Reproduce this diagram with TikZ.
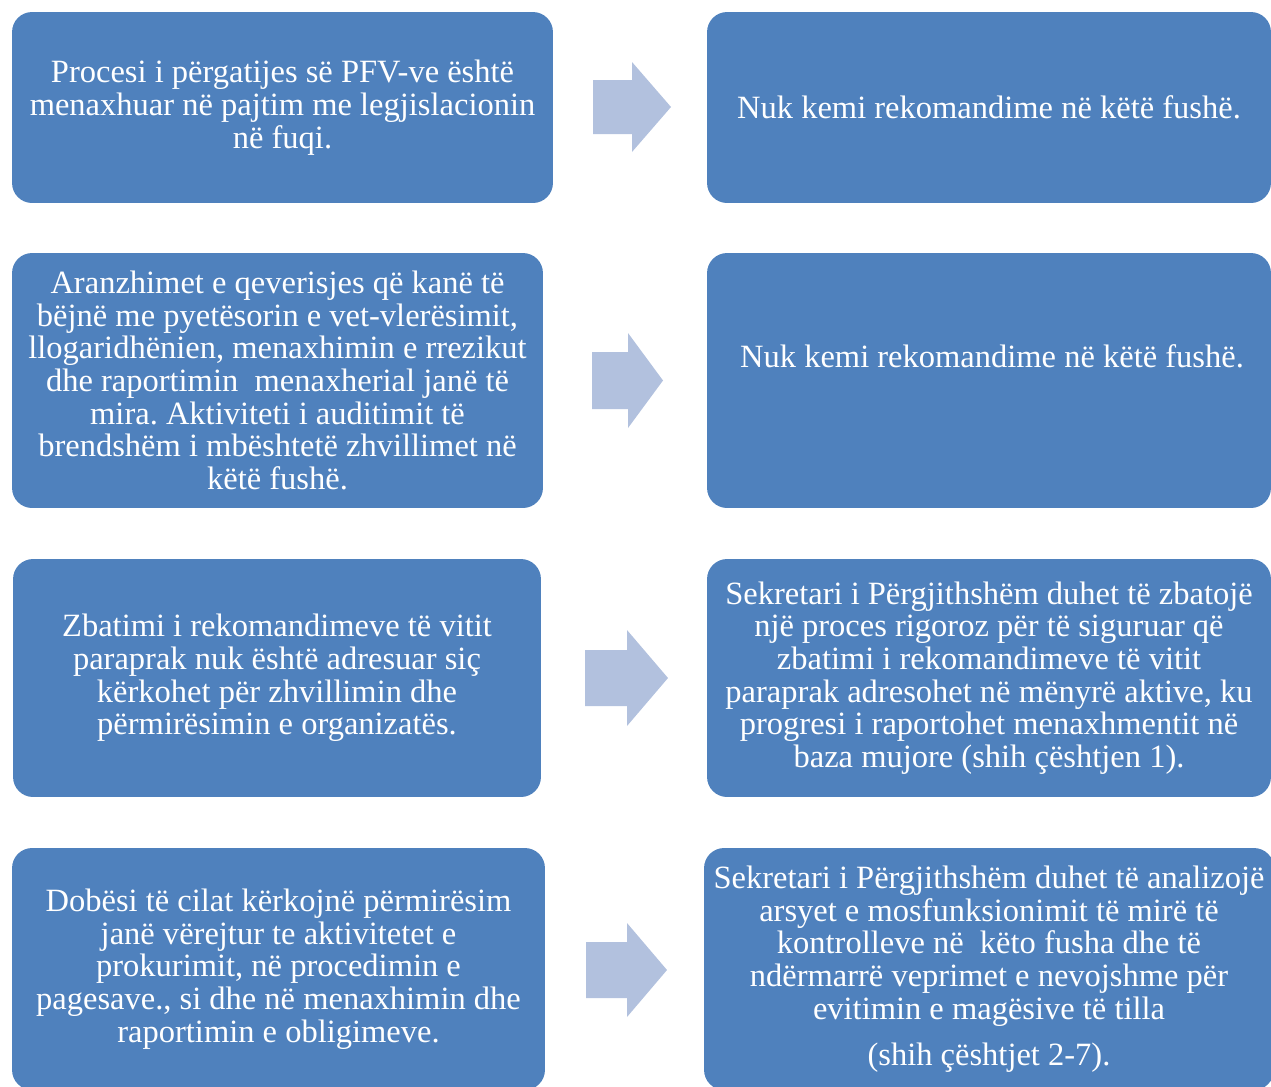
\documentclass[tikz,border=0pt]{standalone}
\usepackage{fontspec}
\setmainfont{Liberation Serif}
\frenchspacing
\definecolor{boxblue}{HTML}{4F81BD}
\definecolor{arrowblue}{HTML}{B2C1DE}

\begin{document}
\begin{tikzpicture}[
            x=0.02cm, y=-0.02cm,
            box/.style={rectangle, rounded corners=0.4cm, fill=boxblue, text=white,
                align=center, inner sep=0pt, font=\fontsize{18.5pt}{18.6pt}\selectfont},
            rightbox/.style={box, minimum width=11.28cm}
        ]
        \useasboundingbox (0,0) rectangle (1271,1086);
        % left column
        \node[box, minimum width=10.82cm, minimum height=3.82cm] (l1) at (282.5,107.5)
            {Procesi i përgatijes së PFV-ve është\\
             menaxhuar në pajtim me legjislacionin\\
             në fuqi.};
        \node[box, minimum width=10.62cm, minimum height=5.1cm] (l2) at (277.5,380.5)
            {Aranzhimet e qeverisjes që kanë të\\
             bëjnë me pyetësorin e vet-vlerësimit,\\
             llogaridhënien, menaxhimin e rrezikut\\
             dhe raportimin\ \ menaxherial janë të\\
             mira. Aktiviteti i auditimit të\\
             brendshëm i mbështetë zhvillimet në\\
             këtë fushë.};
        \node[box, minimum width=10.56cm, minimum height=4.76cm] (l3) at (277,678)
            {Zbatimi i rekomandimeve të vitit\\
             paraprak nuk është adresuar siç\\
             kërkohet për zhvillimin dhe\\
             përmirësimin e organizatës.};
        \node[box, minimum width=10.66cm, minimum height=4.84cm] (l4) at (278.5,969)
            {Dobësi të cilat kërkojnë përmirësim\\
             janë vërejtur te aktivitetet e\\
             prokurimit, në procedimin e\\
             pagesave., si dhe në menaxhimin dhe\\
             raportimin e obligimeve.};
        % right column
        \node[rightbox, minimum height=3.82cm] (r1) at (989,107.5)
            {Nuk kemi rekomandime në këtë fushë.};
        \node[rightbox, minimum height=5.1cm] (r2) at (989,380.5) {};
        \node[box, fill=none] (r2txt) at (992,356)
            {Nuk kemi rekomandime në këtë fushë.};
        \node[rightbox, minimum height=4.76cm] (r3) at (989,678)
            {Sekretari i Përgjithshëm duhet të zbatojë\\
             një proces rigoroz për të siguruar që\\
             zbatimi i rekomandimeve të vitit\\
             paraprak adresohet në mënyrë aktive, ku\\
             progresi i raportohet menaxhmentit në\\
             baza mujore (shih çështjen 1).};
        \node[rightbox, minimum width=11.4cm, minimum height=4.84cm] (r4) at (989,969)
            {Sekretari i Përgjithshëm duhet të analizojë\\
             arsyet e mosfunksionimit të mirë të\\
             kontrolleve në\ \ këto fusha dhe të\\
             ndërmarrë veprimet e nevojshme për\\
             evitimin e magësive të tilla\\[0.26cm]
             (shih çështjet 2-7).};
        % block arrows between the columns
        \foreach \tl/\bs/\tp/\cy/\sw/\hw in {593/632/671/107/27/45, 592/628/663/380.5/28.5/47.5,
                585/627/668/678/28/48, 586/627/667/970/28/47}
            \fill[arrowblue] (\tl,{\cy-\sw}) -- (\bs,{\cy-\sw}) -- (\bs,{\cy-\hw}) -- (\tp,\cy)
                -- (\bs,{\cy+\hw}) -- (\bs,{\cy+\sw}) -- (\tl,{\cy+\sw}) -- cycle;
    \end{tikzpicture}
\end{document}
